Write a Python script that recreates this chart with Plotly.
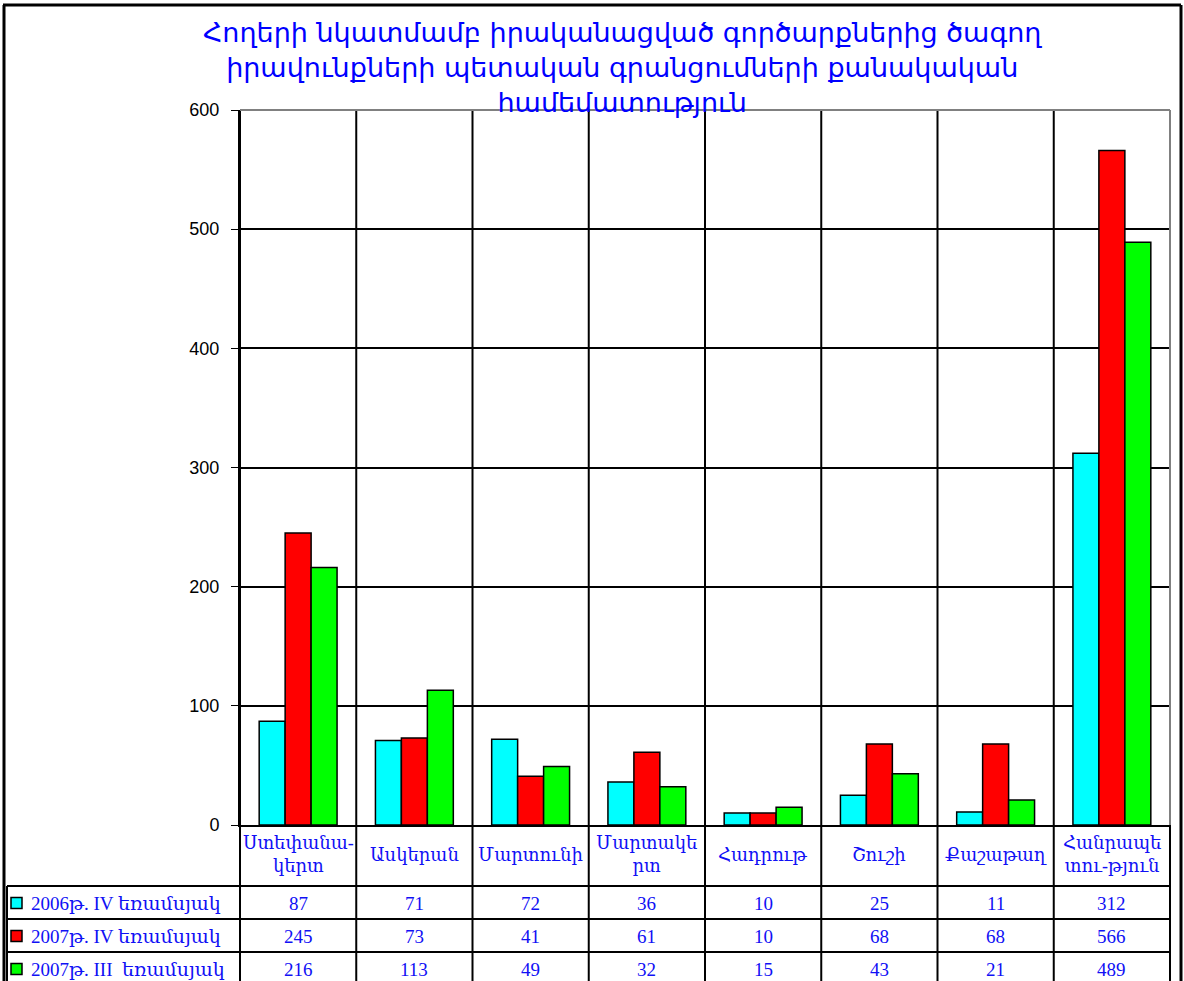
import plotly.graph_objects as go

# categories (regions) and series
regions = ["Ստեփանակերտ", "Ասկերան", "Մարտունի", "Մարտակերտ",
           "Հադրութ", "Շուշի", "Քաշաթաղ", "Հանրապետություն"]
region_labels = ["Ստեփանա-<br>կերտ", "Ասկերան", "Մարտունի", "Մարտակե<br>րտ",
                 "Հադրութ", "Շուշի", "Քաշաթաղ", "Հանրապե<br>տու-թյուն"]
series_names = ["2006թ. IV եռամսյակ", "2007թ. IV եռամսյակ", "2007թ. III  եռամսյակ"]
q4_2006 = [87, 71, 72, 36, 10, 25, 11, 312]
q4_2007 = [245, 73, 41, 61, 10, 68, 68, 566]
q3_2007 = [216, 113, 49, 32, 15, 43, 21, 489]
y_ticks = [0, 100, 200, 300, 400, 500, 600]

title = ("Հողերի նկատմամբ իրականացված գործարքներից ծագող<br>"
         "իրավունքների պետական գրանցումների քանակական<br>"
         "համեմատություն")

colors = ["#00FFFF", "#FF0000", "#00FF00"]
series = [q4_2006, q4_2007, q3_2007]

W, H = 1184, 981
L, R, T, B = 240, 14, 110, 156
pw, ph = W - L - R, H - T - B


def px2x(px):
    return (px - L) / pw


def py2y(py):
    return (H - B - py) / ph


fig = go.Figure()
for name, vals, c in zip(series_names, series, colors):
    fig.add_trace(go.Bar(x=regions, y=vals, name=name, showlegend=False,
                         marker=dict(color=c, line=dict(color="black", width=1.5))))

serif = "Liberation Serif, DejaVu Serif, serif"
blue = "#1010F5"

shapes = []
ann = []
n = len(regions)
bottom = py2y(H + 5)
row_lines = [py2y(886), py2y(919), py2y(952)]
row_centers = [py2y(903), py2y(936), py2y(969)]

# vertical grid / table column lines
for i in range(0, n):
    shapes.append(dict(type="line", xref="paper", yref="paper", x0=i / n, x1=i / n,
                       y0=bottom, y1=1, line=dict(color="black", width=2), layer="below"))
shapes.append(dict(type="line", xref="paper", yref="paper", x0=1, x1=1, y0=bottom, y1=0,
                   line=dict(color="black", width=2)))
shapes.append(dict(type="line", xref="paper", yref="paper", x0=1, x1=1, y0=0, y1=1,
                   line=dict(color="#808080", width=2)))
shapes.append(dict(type="line", xref="paper", yref="paper", x0=0, x1=1, y0=1, y1=1,
                   line=dict(color="#808080", width=2)))
# table rows
for yl in row_lines:
    shapes.append(dict(type="line", xref="paper", yref="paper", x0=px2x(7), x1=1, y0=yl, y1=yl,
                       line=dict(color="black", width=2)))
shapes.append(dict(type="line", xref="paper", yref="paper", x0=px2x(7), x1=px2x(7),
                   y0=row_lines[0], y1=bottom, line=dict(color="black", width=2)))
# outer frame
shapes.append(dict(type="line", xref="paper", yref="paper", x0=px2x(4), x1=px2x(4),
                   y0=bottom, y1=py2y(5), line=dict(color="black", width=3)))
shapes.append(dict(type="line", xref="paper", yref="paper", x0=px2x(3), x1=px2x(1181),
                   y0=py2y(5), y1=py2y(5), line=dict(color="black", width=3)))
shapes.append(dict(type="line", xref="paper", yref="paper", x0=px2x(1181), x1=px2x(1181),
                   y0=bottom, y1=py2y(5), line=dict(color="black", width=3)))

# table header (regions)
for r, lab in zip(regions, region_labels):
    ann.append(dict(x=r, xref="x", y=py2y(855), yref="paper", text=lab, showarrow=False,
                    yanchor="middle", xanchor="center",
                    font=dict(family=serif, size=18, color=blue), align="center"))
# table values and row labels
for k, (name, vals, c) in enumerate(zip(series_names, series, colors)):
    yc = row_centers[k]
    for r, v in zip(regions, vals):
        ann.append(dict(x=r, xref="x", y=yc, yref="paper", text=str(v), showarrow=False,
                        yanchor="middle", xanchor="center",
                        font=dict(family=serif, size=19, color=blue)))
    ann.append(dict(x=px2x(29), xref="paper", y=yc, yref="paper", text=name, showarrow=False,
                    xanchor="left", yanchor="middle", font=dict(family=serif, size=19, color=blue)))
    shapes.append(dict(type="rect", xref="paper", yref="paper", x0=px2x(11), x1=px2x(22),
                       y0=yc - 5.5 / ph, y1=yc + 5.5 / ph, fillcolor=c,
                       line=dict(color="black", width=1.5)))

ann.append(dict(x=px2x(622), xref="paper", y=py2y(68), yref="paper", text=title,
                showarrow=False, xanchor="center", yanchor="middle",
                font=dict(family="DejaVu Sans, sans-serif", size=27, color="#0000FF")))

fig.update_layout(
    width=W, height=H,
    margin=dict(l=L, r=R, t=T, b=B),
    paper_bgcolor="white", plot_bgcolor="white",
    barmode="group", bargap=0.33, bargroupgap=0,
    showlegend=False,
    xaxis=dict(showticklabels=False, showgrid=False, showline=True, linecolor="black",
               linewidth=2, ticks="", range=[-0.5, n - 0.5]),
    yaxis=dict(range=[0, 600], tickvals=y_ticks, showgrid=True, gridcolor="black", gridwidth=1.5,
               showline=True, linecolor="black", linewidth=2, ticks="outside", ticklen=7,
               tickcolor="black", zeroline=False, ticklabelstandoff=8,
               tickfont=dict(family="Liberation Sans, Arial, sans-serif", size=18, color="black")),
    shapes=shapes, annotations=ann,
)

fig.write_html("out.html", config={"displayModeBar": False},
               post_script="document.body.style.margin = '0';")
